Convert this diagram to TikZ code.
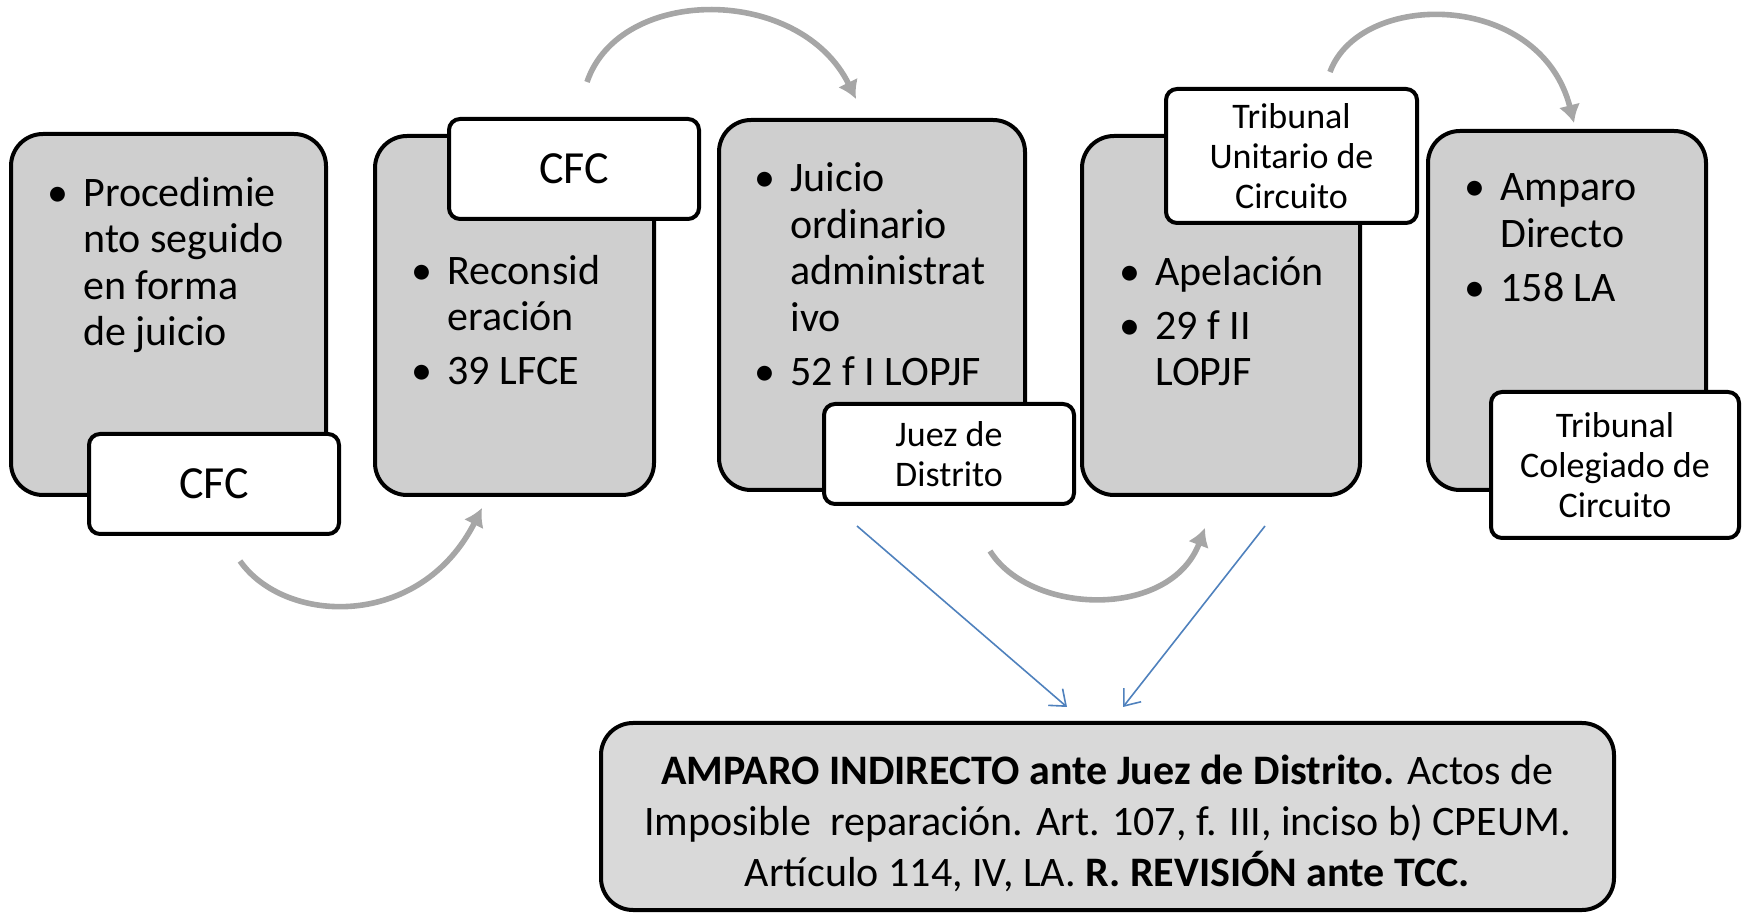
\documentclass[tikz,border=0pt]{standalone}
\usepackage{fontspec}
\setmainfont{Carlito}
\usepackage{xcolor}
\usepackage{tikz}
\usetikzlibrary{arrows.meta}
\definecolor{panelgrey}{RGB}{207,207,207}
\definecolor{basegrey}{RGB}{217,217,217}
\definecolor{arcgrey}{RGB}{166,166,166}
\definecolor{linkblue}{RGB}{79,129,189}
\newcommand{\bul}{\makebox[16.5pt][l]{\hspace*{-1.5pt}\textbullet}}
\newcommand{\ind}{\hspace*{16.5pt}}

\begin{document}
\begin{tikzpicture}[x=0.5pt,y=-0.5pt]
% Define styles
\tikzstyle{panel} = [draw, line width=2pt, fill=panelgrey, rounded corners=16pt]
\tikzstyle{tag} = [draw, line width=2pt, fill=white, rounded corners=5.5pt, align=center]
\tikzstyle{items} = [anchor=north west, inner sep=0pt, align=left, font=\fontsize{21}{23.25}\selectfont]
\tikzstyle{arc} = [draw=arcgrey, line width=2.8pt, -{Latex[length=9pt,width=11pt]}]
\tikzstyle{link} = [draw=linkblue, line width=0.8pt, -{Straight Barb[length=7pt,width=11pt]}]
\useasboundingbox (0,0) rectangle (1745,913);
% Define nodes
\node[panel, minimum width=157.5pt, minimum height=180.5pt] (box1) at (168.5,314.5) {};
\node[panel, minimum width=139.5pt, minimum height=179.5pt] (box2) at (514.5,315.5) {};
\node[panel, minimum width=153pt, minimum height=185pt] (box3) at (872,305) {};
\node[panel, minimum width=139pt, minimum height=179.5pt] (box4) at (1221,315.5) {};
\node[panel, minimum width=139pt, minimum height=179.5pt] (box5) at (1567,310.5) {};
\node[tag, minimum width=125pt, minimum height=50pt, font=\fontsize{23}{26}\selectfont] (cfc1) at (214,484) {CFC};
\node[tag, minimum width=125pt, minimum height=50pt, font=\fontsize{23}{26}\selectfont] (cfc2) at (574,169) {CFC};
\node[tag, minimum width=125pt, minimum height=50pt, font=\fontsize{18}{20}\selectfont] (juez) at (949,454) {Juez de\\Distrito};
\node[tag, minimum width=125.5pt, minimum height=67pt, font=\fontsize{18}{20}\selectfont] (tuc) at (1291.5,156) {Tribunal\\Unitario de\\Circuito};
\node[tag, minimum width=124pt, minimum height=73pt, font=\fontsize{18}{20}\selectfont] (tcc) at (1615,465) {Tribunal\\Colegiado de\\Circuito};
\node[items] (items1) at (50,176.5) {\bul Procedimie\\ \ind nto seguido\\ \ind en forma\\ \ind de juicio};
\node[items] (items2) at (414,254.5) {\bul Reconsid\\ \ind eración\\[3.75pt] \bul 39 LFCE};
\node[items] (items3) at (757,162.5) {\bul Juicio\\ \ind ordinario\\ \ind administrat\\ \ind ivo\\[3.75pt] \bul 52 f I LOPJF};
\node[items] (items4) at (1122,255.5) {\bul Apelación\\[3.75pt] \bul 29 f II\\ \ind LOPJF};
\node[items] (items5) at (1467,173.5) {\bul Amparo\\ \ind Directo\\[3.75pt] \bul 158 LA};
\node[panel, fill=basegrey, minimum width=506.5pt, minimum height=93.5pt] (amparo) at (1107.5,816.5) {};
\node[align=center, font=\fontsize{21}{25.5}\selectfont] (amparotext) at ([yshift=-3.3pt]amparo.center) {\textbf{AMPARO INDIRECTO ante Juez de Distrito.} Actos de\\ Imposible\ \ reparación. Art. 107, f. III, inciso b) CPEUM.\\ Artículo 114, IV, LA. \textbf{R. REVISIÓN ante TCC.}};
\coordinate (arc1s) at (240,561);
\coordinate (arc1e) at (482,508);
\coordinate (arc2s) at (587,82);
\coordinate (arc2e) at (856,99);
\coordinate (arc3s) at (990,551);
\coordinate (arc3e) at (1205,528);
\coordinate (arc4s) at (1330,72);
\coordinate (arc4e) at (1574,123);
\coordinate (link1s) at (857,526);
\coordinate (link2s) at (1265,526);
\coordinate (link1e) at (1067,707);
\coordinate (link2e) at (1123,707);
% Connect the nodes
\draw[arc] (arc1s) .. controls (285,625) and (420,630) .. (arc1e);
\draw[arc] (arc2s) .. controls (620,-15) and (800,-15) .. (arc2e);
\draw[arc] (arc3s) .. controls (1030,615) and (1170,620) .. (arc3e);
\draw[arc] (arc4s) .. controls (1360,-10) and (1540,-10) .. (arc4e);
\draw[link] (link1s) -- (link1e);
\draw[link] (link2s) -- (link2e);
\end{tikzpicture}
\end{document}
